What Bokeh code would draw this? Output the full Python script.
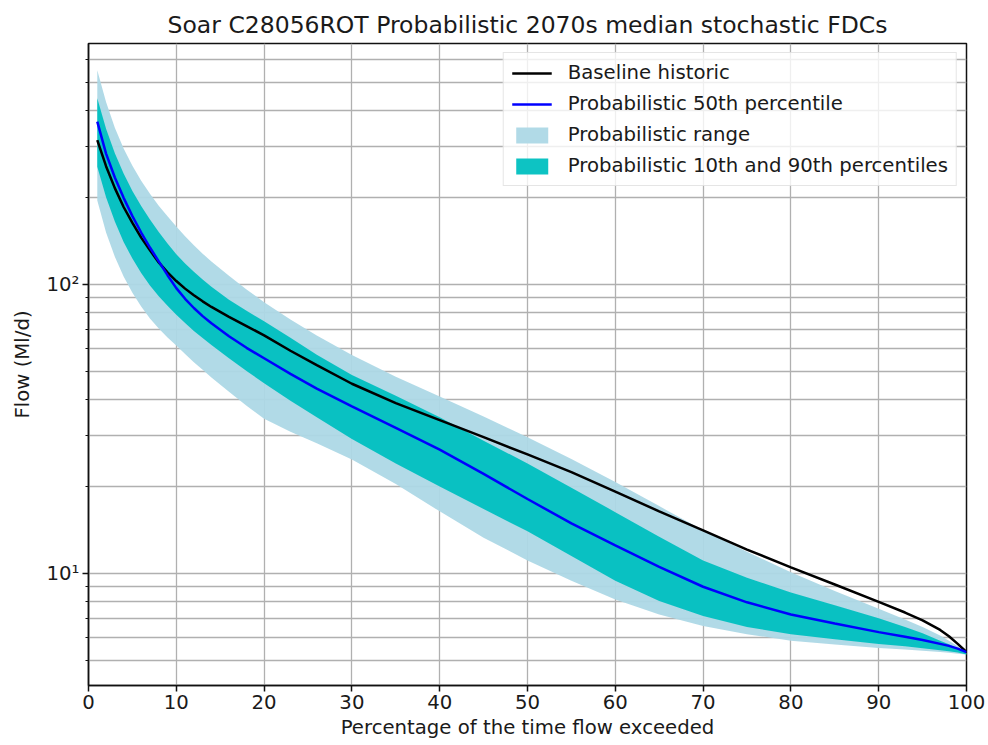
from bokeh.plotting import figure
from bokeh.models import FixedTicker, Legend, LegendItem, Range1d
from bokeh.embed import file_html
from bokeh.resources import INLINE

# Percentage of time flow exceeded
pct = [1, 2, 3, 4, 5, 6, 7, 8, 9, 10, 11, 12, 13, 14, 16, 18, 20, 23, 26, 30,
       35, 40, 45, 50, 55, 60, 65, 70, 75, 80, 85, 90, 93, 95, 97, 98, 99, 100]

baseline = [315, 256, 215, 185, 163, 145, 131, 119, 110, 102.6, 96.6, 91.6, 87.3, 83.5, 77.2, 71.7,
            66.6, 58.9, 52.5, 45.3, 38.8, 33.9, 29.6, 25.8, 22.4, 19.2, 16.4, 14.1, 12.1, 10.5,
            9.16, 7.98, 7.33, 6.89, 6.38, 6.07, 5.71, 5.35]
p50 = [365, 283, 234, 199, 172, 151, 134, 120, 107.5, 97, 89.1, 82.8, 77.6, 73.3, 66.1, 60.3,
       55.5, 49, 43.6, 37.8, 31.9, 26.8, 22.1, 18.1, 14.9, 12.5, 10.55, 9.0, 7.95, 7.22,
       6.72, 6.27, 6.04, 5.89, 5.71, 5.62, 5.5, 5.35]
p90 = [440, 345, 284, 241.5, 210, 186.6, 167.5, 151.7, 138.4, 127, 118, 110.4, 103.8, 98, 88.5, 81,
       74.5, 65.3, 57.1, 48.6, 41.2, 34.7, 28.8, 24, 19.8, 16.3, 13.4, 11.1, 9.66, 8.6,
       7.76, 7.0, 6.53, 6.21, 5.86, 5.69, 5.5, 5.3]
p10 = [255, 200, 165, 140, 122.7, 109.4, 99.1, 91, 84.3, 78.5, 73.5, 69, 65.2, 61.7, 55.5, 50.1,
       45.5, 39.6, 34.7, 29.2, 24, 20, 16.7, 14, 11.5, 9.44, 8.04, 7.13, 6.53, 6.17,
       5.93, 5.71, 5.6, 5.52, 5.43, 5.38, 5.33, 5.25]
pmax = [550, 427, 348, 295, 257, 228, 205.6, 187, 171.8, 158.5, 146.6, 136.5, 127.6, 120, 107, 96,
        86.7, 75.5, 66.5, 56.9, 47.9, 40.9, 34.9, 29.6, 24.9, 20.7, 17.1, 14.1, 11.9, 10.1,
        8.7, 7.55, 6.93, 6.53, 6.1, 5.86, 5.6, 5.3]
pmin = [195, 151, 124.5, 106.4, 93.5, 83.8, 76.2, 70.3, 65.5, 61.4, 57.4, 53.8, 50.6, 47.6, 42.5, 38,
        34.3, 30.9, 28.2, 24.8, 20.4, 16.4, 13.3, 11.1, 9.44, 8.13, 7.21, 6.58, 6.17, 5.86,
        5.68, 5.53, 5.46, 5.41, 5.35, 5.32, 5.28, 5.25]

x_ticks = [0, 10, 20, 30, 40, 50, 60, 70, 80, 90, 100]
y_ticks = [10, 100]
y_labels = {10: "10¹", 100: "10²"}
y_minor = [m * 10 ** k for k in (0, 1, 2) for m in range(2, 10)]

FONT = "DejaVu Sans"
TXT = "#1a1a1a"

p = figure(width=986, height=743, y_axis_type="log",
           x_range=Range1d(0, 100), y_range=Range1d(4.1, 680),
           output_backend="svg", toolbar_location=None,
           title="Soar C28056ROT Probabilistic 2070s median stochastic FDCs",
           min_border_left=88, min_border_right=20, min_border_top=43, min_border_bottom=58)

p.title.align = "center"
p.title.text_font = FONT
p.title.text_font_size = "23.5px"
p.title.text_font_style = "normal"
p.title.text_color = TXT

r_range = p.varea(x=pct, y1=pmin, y2=pmax, fill_color="#add8e6", fill_alpha=0.95)
r_pct = p.varea(x=pct, y1=p10, y2=p90, fill_color="#00c0c0", fill_alpha=0.95)
r_base = p.line(pct, baseline, line_color="black", line_width=2.5)
r_med = p.line(pct, p50, line_color="#0000ff", line_width=2.5)

p.xaxis.ticker = FixedTicker(ticks=x_ticks)
yt = FixedTicker(ticks=y_ticks, minor_ticks=y_minor)
p.yaxis.ticker = yt
p.ygrid.ticker = yt
p.yaxis.major_label_overrides = y_labels

p.xaxis.axis_label = "Percentage of the time flow exceeded"
p.yaxis.axis_label = "Flow (Ml/d)"
for ax in (p.xaxis, p.yaxis):
    ax.axis_label_text_font = FONT
    ax.axis_label_text_font_size = "19.7px"
    ax.axis_label_text_font_style = "normal"
    ax.axis_label_text_color = TXT
    ax.major_label_text_font = FONT
    ax.major_label_text_font_size = "19.7px"
    ax.major_label_text_color = TXT
    ax.axis_line_color = "#111111"
    ax.axis_line_width = 1.5
    ax.major_tick_line_color = "#111111"
    ax.major_tick_line_width = 1.5
    ax.minor_tick_line_color = "#111111"
    ax.major_tick_out = 6
    ax.major_tick_in = 0
    ax.minor_tick_out = 3
    ax.minor_tick_in = 0
    ax.major_label_standoff = 3
p.xaxis.minor_tick_line_color = None
p.xaxis.axis_label_standoff = 4
p.yaxis.axis_label_standoff = 10

p.grid.grid_line_color = "#b0b0b0"
p.grid.grid_line_width = 1.3
p.ygrid.minor_grid_line_color = "#b0b0b0"
p.ygrid.minor_grid_line_width = 1.3
p.outline_line_color = "#111111"
p.outline_line_width = 1.5

legend = Legend(items=[
    LegendItem(label="Baseline historic", renderers=[r_base]),
    LegendItem(label="Probabilistic 50th percentile", renderers=[r_med]),
    LegendItem(label="Probabilistic range", renderers=[r_range]),
    LegendItem(label="Probabilistic 10th and 90th percentiles", renderers=[r_pct]),
], location="top_right")
legend.label_text_font = FONT
legend.label_text_font_size = "19.7px"
legend.label_text_color = TXT
legend.glyph_width = 40
legend.glyph_height = 20
legend.label_height = 20
legend.spacing = 8
legend.padding = 8
legend.margin = 9
legend.label_standoff = 16
legend.border_line_color = "#cccccc"
legend.background_fill_alpha = 0.8
p.add_layout(legend, "center")

open("out.html", "w").write(file_html(p, INLINE))
